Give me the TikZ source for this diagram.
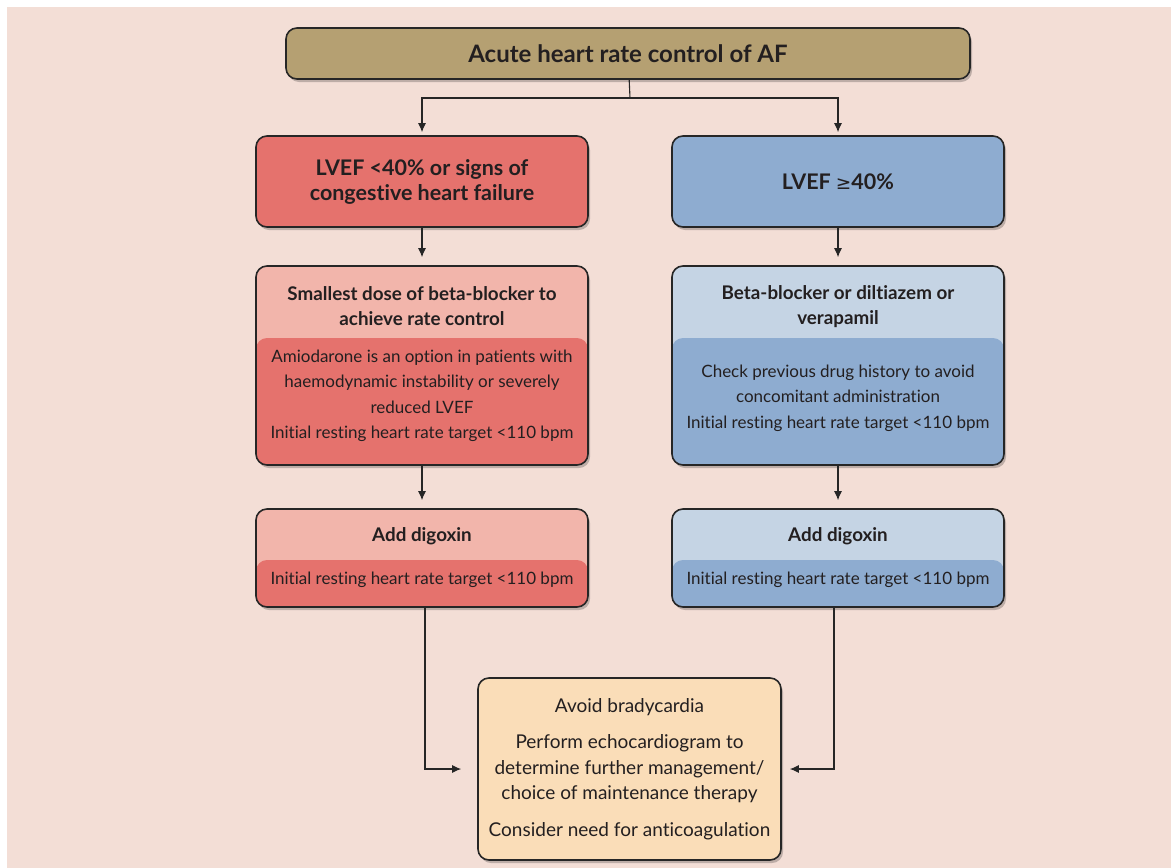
\documentclass[tikz,border=0pt]{standalone}
\usepackage{fontspec}
\setmainfont[Ligatures=NoCommon]{Lato}
\newfontfamily\symfont{DejaVu Sans}
\usetikzlibrary{positioning,shadows,arrows.meta}

\definecolor{bgpink}{HTML}{F3DED6}
\definecolor{titlebrown}{HTML}{B5A072}
\definecolor{redbox}{HTML}{E5726D}
\definecolor{redlight}{HTML}{F2B5AB}
\definecolor{bluebox}{HTML}{8EACD0}
\definecolor{bluelight}{HTML}{C5D4E4}
\definecolor{peach}{HTML}{FADDB8}
\definecolor{edge}{HTML}{262626}
\definecolor{ink}{HTML}{231F20}

\tikzset{
	box/.style={draw=edge, line width=1.6pt, rounded corners=11pt, text=ink, align=center,
		minimum width=332pt, drop shadow={shadow xshift=2pt, shadow yshift=-3pt, opacity=0.22, fill=black}},
	twotone/.style n args={3}{fill=#1, path picture={
		\fill[#2] ([yshift=-#3]path picture bounding box.north west) rectangle (path picture bounding box.south east);}},
	headtxt/.style={text=ink, align=center, font=\bfseries\fontsize{18.8}{25}\selectfont},
	bodytxt/.style={text=ink, align=center, font=\fontsize{17}{25.5}\selectfont},
	arr/.style={-{Latex[length=9pt,width=8pt]}, line width=1.1pt, draw=edge}
}

\begin{document}
\begin{tikzpicture}[x=1pt, y=-1pt]
	\useasboundingbox (0,0) rectangle (1171,868);
	\fill[white] (0,0) rectangle (1171,868);
	\fill[bgpink] (7,7) rectangle (1171,868);

	%title
	\node (title) at (628,53.5) [box, fill=titlebrown, minimum width=684pt, minimum height=51pt,
		font=\bfseries\fontsize{24}{25}\selectfont]{Acute heart rate control of AF};

	%first row
	\node (lvefl) at (422,181.5) [box, fill=redbox, minimum height=91pt,
		font=\bfseries\fontsize{21.5}{25}\selectfont]{LVEF <40\% or signs of\\congestive heart failure};
	\node (lvefr) at (838,181.5) [box, fill=bluebox, minimum height=91pt,
		font=\bfseries\fontsize{21.5}{25}\selectfont]{LVEF {\mdseries\symfont\fontsize{18.5}{25}\selectfont ≥}40\%};

	%second row
	\node (drugl) at (422,365.5) [box, twotone={redlight}{redbox}{72pt}, minimum height=199pt]{};
	\node (drugr) at (838,365.5) [box, twotone={bluelight}{bluebox}{72pt}, minimum height=199pt]{};
	\node (druglhead) at (422,306.5) [headtxt]{Smallest dose of beta-blocker to\\achieve rate control};
	\node (druglbody) at (422,396) [bodytxt]{Amiodarone is an option in patients with\\haemodynamic instability or severely\\reduced LVEF\\Initial resting heart rate target <110 bpm};
	\node (drugrhead) at (838,306.5) [headtxt]{Beta-blocker or diltiazem or\\verapamil};
	\node (drugrbody) at (838,398) [bodytxt]{Check previous drug history to avoid\\concomitant administration\\Initial resting heart rate target <110 bpm};

	%third row
	\node (digl) at (422,558) [box, twotone={redlight}{redbox}{51pt}, minimum height=98pt]{};
	\node (digr) at (838,558) [box, twotone={bluelight}{bluebox}{51pt}, minimum height=98pt]{};
	\node (diglhead) at (422,536) [headtxt]{Add digoxin};
	\node (diglbody) at (422,580) [bodytxt]{Initial resting heart rate target <110 bpm};
	\node (digrhead) at (838,536) [headtxt]{Add digoxin};
	\node (digrbody) at (838,580) [bodytxt]{Initial resting heart rate target <110 bpm};

	%final
	\node (final) at (629.5,769) [box, fill=peach, minimum width=303pt, minimum height=182pt,
		font=\fontsize{19}{25.5}\selectfont]{Avoid bradycardia\\[11pt]Perform echocardiogram to\\determine further management/\\choice of maintenance therapy\\[11pt]Consider need for anticoagulation};

	%connectors
	\coordinate (fork) at (630,98);
	\draw[line width=1.1pt, edge] (title) -- (fork);
	\draw[arr, shorten >=3pt] (fork) -| (lvefl);
	\draw[arr, shorten >=3pt] (fork) -| (lvefr);
	\draw[arr, shorten >=8pt] (lvefl) -- (drugl);
	\draw[arr, shorten >=8pt] (lvefr) -- (drugr);
	\draw[arr, shorten >=8pt] (drugl) -- (digl);
	\draw[arr, shorten >=8pt] (drugr) -- (digr);
	\draw[arr, shorten >=16pt] ([xshift=3pt]digl.south) |- (final.west);
	\draw[arr, shorten >=8pt] ([xshift=-4pt]digr.south) |- (final.east);
\end{tikzpicture}
\end{document}
